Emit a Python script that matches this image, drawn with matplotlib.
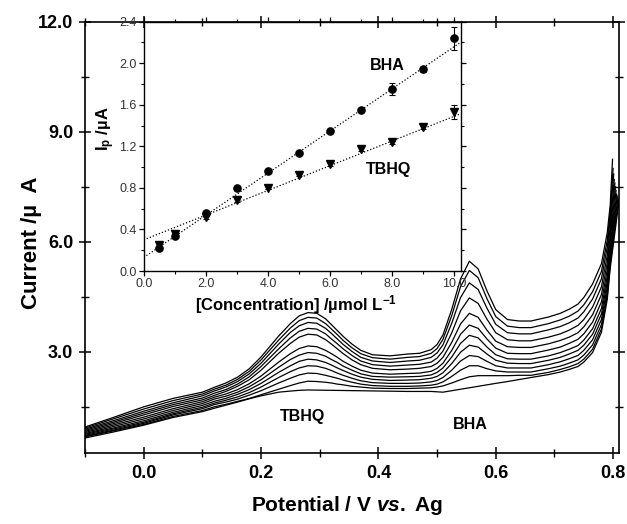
import numpy as np
import matplotlib
matplotlib.use('Agg')
import matplotlib.pyplot as plt
from matplotlib.ticker import MultipleLocator, FormatStrFormatter

plt.rcParams['font.family'] = ['Liberation Sans', 'DejaVu Sans']
plt.rcParams['mathtext.fontset'] = 'custom'
plt.rcParams['mathtext.rm'] = 'Liberation Sans:bold'
plt.rcParams['mathtext.it'] = 'Liberation Sans:bold:italic'
plt.rcParams['mathtext.bf'] = 'Liberation Sans:bold'

# ---------------- main DPV curves (potential / V, current / uA) ----------------
potential = [-0.10, -0.05, 0.00, 0.05, 0.10, 0.12, 0.14, 0.16, 0.18, 0.20, 0.23, 0.25,
             0.265, 0.28, 0.295, 0.31, 0.32, 0.33, 0.34, 0.355, 0.37, 0.39, 0.42, 0.45,
             0.47, 0.49, 0.50, 0.51, 0.525, 0.54, 0.555, 0.57, 0.585, 0.60, 0.62, 0.64,
             0.66, 0.69, 0.71, 0.725, 0.74, 0.75, 0.765, 0.78, 0.79, 0.795]

i_blank = [0.65, 0.82, 1.00, 1.21, 1.37, 1.46, 1.545, 1.63, 1.72, 1.80, 1.90, 1.93, 1.95, 1.96,
           1.956, 1.953, 1.951, 1.948, 1.946, 1.942, 1.939, 1.934, 1.927, 1.92, 1.92, 1.92, 1.91,
           1.90, 1.94, 1.98, 2.02, 2.06, 2.10, 2.14, 2.19, 2.245, 2.30, 2.38, 2.45, 2.52, 2.60,
           2.72, 2.98, 3.53, 4.43, 5.28]
i_c05 = [0.68, 0.85, 1.02, 1.24, 1.40, 1.50, 1.57, 1.65, 1.73, 1.83, 1.98, 2.08, 2.15, 2.20,
         2.19, 2.17, 2.15, 2.12, 2.10, 2.06, 2.04, 2.01, 2.00, 2.00, 2.01, 2.02, 2.04, 2.07,
         2.15, 2.24, 2.32, 2.35, 2.35, 2.35, 2.35, 2.36, 2.36, 2.44, 2.52, 2.59, 2.68, 2.80,
         3.07, 3.62, 4.52, 5.36]
i_c1 = [0.70, 0.87, 1.05, 1.28, 1.45, 1.56, 1.63, 1.71, 1.82, 1.94, 2.15, 2.28, 2.37, 2.42,
        2.41, 2.36, 2.32, 2.28, 2.23, 2.17, 2.12, 2.08, 2.06, 2.06, 2.07, 2.09, 2.12, 2.18,
        2.33, 2.50, 2.62, 2.62, 2.54, 2.48, 2.45, 2.45, 2.45, 2.54, 2.61, 2.69, 2.78, 2.91,
        3.19, 3.74, 4.63, 5.46]
i_c2 = [0.72, 0.90, 1.08, 1.31, 1.49, 1.60, 1.68, 1.77, 1.89, 2.04, 2.30, 2.46, 2.56, 2.62,
        2.61, 2.55, 2.49, 2.42, 2.36, 2.28, 2.21, 2.16, 2.14, 2.14, 2.15, 2.18, 2.22, 2.30,
        2.50, 2.75, 2.90, 2.87, 2.74, 2.62, 2.56, 2.56, 2.56, 2.65, 2.73, 2.81, 2.90, 3.04,
        3.33, 3.88, 4.77, 5.59]
i_c3 = [0.75, 0.93, 1.12, 1.35, 1.54, 1.65, 1.73, 1.84, 1.97, 2.14, 2.44, 2.62, 2.74, 2.80,
        2.78, 2.71, 2.64, 2.56, 2.49, 2.39, 2.31, 2.25, 2.22, 2.23, 2.24, 2.28, 2.33, 2.43,
        2.68, 2.99, 3.18, 3.13, 2.94, 2.77, 2.69, 2.68, 2.68, 2.77, 2.85, 2.94, 3.04, 3.18,
        3.48, 4.03, 4.91, 5.73]
i_c4 = [0.77, 0.97, 1.17, 1.40, 1.59, 1.71, 1.79, 1.90, 2.05, 2.24, 2.58, 2.79, 2.91, 2.98,
        2.96, 2.88, 2.79, 2.71, 2.61, 2.50, 2.40, 2.33, 2.31, 2.32, 2.33, 2.37, 2.44, 2.56,
        2.86, 3.23, 3.45, 3.38, 3.13, 2.92, 2.81, 2.80, 2.80, 2.89, 2.98, 3.07, 3.17, 3.32,
        3.63, 4.18, 5.06, 5.86]
i_c5 = [0.80, 1.01, 1.22, 1.45, 1.64, 1.76, 1.85, 1.97, 2.13, 2.34, 2.72, 2.95, 3.09, 3.16,
        3.14, 3.04, 2.95, 2.85, 2.74, 2.61, 2.50, 2.42, 2.39, 2.41, 2.42, 2.47, 2.55, 2.69,
        3.04, 3.48, 3.73, 3.64, 3.35, 3.10, 2.96, 2.95, 2.95, 3.05, 3.13, 3.23, 3.34, 3.49,
        3.81, 4.36, 5.23, 6.03]
i_c6 = [0.83, 1.05, 1.28, 1.51, 1.69, 1.81, 1.92, 2.06, 2.24, 2.50, 2.96, 3.23, 3.40, 3.48,
        3.46, 3.33, 3.21, 3.08, 2.95, 2.78, 2.65, 2.55, 2.51, 2.53, 2.55, 2.60, 2.69, 2.85,
        3.26, 3.76, 4.05, 3.94, 3.59, 3.29, 3.14, 3.12, 3.12, 3.22, 3.31, 3.40, 3.52, 3.68,
        4.01, 4.56, 5.43, 6.22]
i_c7 = [0.86, 1.09, 1.33, 1.56, 1.74, 1.87, 1.97, 2.12, 2.32, 2.60, 3.08, 3.38, 3.56, 3.64,
        3.62, 3.49, 3.35, 3.22, 3.08, 2.90, 2.75, 2.65, 2.61, 2.64, 2.66, 2.72, 2.83, 3.02,
        3.52, 4.12, 4.47, 4.32, 3.89, 3.52, 3.33, 3.30, 3.30, 3.40, 3.49, 3.59, 3.72, 3.88,
        4.22, 4.77, 5.63, 6.41]
i_c8 = [0.89, 1.13, 1.38, 1.61, 1.80, 1.93, 2.04, 2.19, 2.40, 2.69, 3.21, 3.53, 3.71, 3.80,
        3.78, 3.64, 3.50, 3.35, 3.20, 3.01, 2.85, 2.75, 2.71, 2.75, 2.77, 2.85, 2.97, 3.19,
        3.78, 4.48, 4.88, 4.70, 4.19, 3.75, 3.52, 3.49, 3.49, 3.60, 3.69, 3.79, 3.92, 4.09,
        4.44, 4.99, 5.85, 6.62]
i_c9 = [0.92, 1.18, 1.44, 1.67, 1.85, 1.98, 2.09, 2.25, 2.47, 2.78, 3.32, 3.65, 3.85, 3.94,
        3.92, 3.77, 3.62, 3.47, 3.31, 3.11, 2.95, 2.84, 2.80, 2.85, 2.87, 2.96, 3.09, 3.34,
        3.99, 4.78, 5.22, 5.02, 4.45, 3.96, 3.70, 3.66, 3.66, 3.77, 3.87, 3.97, 4.11, 4.28,
        4.64, 5.19, 6.04, 6.80]
i_c10 = [0.95, 1.22, 1.50, 1.73, 1.90, 2.03, 2.15, 2.31, 2.54, 2.86, 3.43, 3.77, 3.98, 4.07,
         4.05, 3.90, 3.74, 3.58, 3.42, 3.21, 3.04, 2.92, 2.89, 2.94, 2.96, 3.06, 3.20, 3.46,
         4.16, 4.99, 5.47, 5.26, 4.66, 4.15, 3.88, 3.84, 3.84, 3.95, 4.05, 4.16, 4.30, 4.48,
         4.85, 5.40, 6.25, 7.00]

# final (steep) point of each curve at the anodic limit
end_potential = [0.810, 0.809, 0.808, 0.807, 0.806, 0.805, 0.804, 0.803, 0.802, 0.801, 0.800, 0.799]
end_current = [7.10, 7.15, 7.20, 7.25, 7.30, 7.40, 7.50, 7.60, 7.70, 7.85, 8.00, 8.25]

curves = [i_blank, i_c05, i_c1, i_c2, i_c3, i_c4, i_c5, i_c6, i_c7, i_c8, i_c9, i_c10]

# ---------------- inset calibration data ----------------
conc = [0.5, 1, 2, 3, 4, 5, 6, 7, 8, 9, 10]
ip_bha = [0.22, 0.34, 0.56, 0.80, 0.96, 1.135, 1.35, 1.55, 1.75, 1.94, 2.24]
err_bha = [0.02, 0.02, 0.02, 0.02, 0.015, 0.015, 0.015, 0.015, 0.06, 0.025, 0.11]
ip_tbhq = [0.25, 0.36, 0.52, 0.68, 0.80, 0.925, 1.03, 1.175, 1.24, 1.385, 1.53]
err_tbhq = [0.02, 0.02, 0.02, 0.02, 0.015, 0.015, 0.015, 0.015, 0.02, 0.02, 0.065]
fit_bha = [0.203, 0.13]     # slope, intercept
fit_tbhq = [0.119, 0.30]

W, H = 627, 524
fig = plt.figure(figsize=(W / 100, H / 100), dpi=100)
ax = fig.add_axes([85 / W, 1 - 452.7 / H, (619 - 85) / W, (452.7 - 21.7) / H])

for cur, e_end, i_end in zip(curves, end_potential, end_current):
    ax.plot(list(potential) + [e_end], list(cur) + [i_end], color='black', lw=0.9)

ax.set_xlim(-0.1, 0.81)
ax.set_ylim(0.25, 12.0)
ax.xaxis.set_major_locator(MultipleLocator(0.2))
ax.xaxis.set_minor_locator(MultipleLocator(0.1))
ax.yaxis.set_major_locator(MultipleLocator(3.0))
ax.yaxis.set_minor_locator(MultipleLocator(1.5))
ax.xaxis.set_major_formatter(FormatStrFormatter('%.1f'))
ax.yaxis.set_major_formatter(FormatStrFormatter('%.1f'))
ax.tick_params(axis='both', which='major', direction='inout', length=9, width=1.1,
               labelsize=13, pad=4)
ax.tick_params(axis='both', which='minor', direction='inout', length=6, width=1.0)
ax.tick_params(axis='both', which='both', top=True, right=True)
for lab in ax.get_xticklabels() + ax.get_yticklabels():
    lab.set_fontweight('bold')
for sp in ax.spines.values():
    sp.set_linewidth(1.2)

ax.set_xlabel('Potential / V $\\mathit{vs.}$ Ag', fontsize=15, fontweight='bold')
ax.xaxis.set_label_coords(0.49, -0.095)
ax.set_ylabel('Current /µ  A', fontsize=16, fontweight='bold')
ax.yaxis.set_label_coords(-0.100, 0.487)
ax.yaxis.label.set_va('center')

ax.text(0.271, 1.25, 'TBHQ', fontsize=11.5, fontweight='bold', ha='center', va='center')
ax.text(0.556, 1.03, 'BHA', fontsize=11.5, fontweight='bold', ha='center', va='center')

# ---------------- inset ----------------
axi = fig.add_axes([143.7 / W, 1 - 271 / H, (460.5 - 143.7) / W, (271 - 21.7) / H])
axi.patch.set_alpha(0.0)
xfit = np.array([0.0, 10.2])
axi.plot(xfit, np.polyval(fit_bha, xfit), color='black', lw=0.9, ls=(0, (1, 1.6)))
axi.plot(xfit, np.polyval(fit_tbhq, xfit), color='black', lw=0.9, ls=(0, (1, 1.6)))
axi.errorbar(conc, ip_bha, yerr=err_bha, fmt='o', color='black', ms=5.2,
             capsize=2.5, elinewidth=0.8, capthick=0.8)
axi.errorbar(conc, ip_tbhq, yerr=err_tbhq, fmt='v', color='black', ms=6,
             capsize=2.5, elinewidth=0.8, capthick=0.8)
axi.set_xlim(0, 10.2)
axi.set_ylim(0, 2.4)
axi.xaxis.set_major_locator(MultipleLocator(2.0))
axi.xaxis.set_minor_locator(MultipleLocator(1.0))
axi.yaxis.set_major_locator(MultipleLocator(0.4))
axi.yaxis.set_minor_locator(MultipleLocator(0.2))
axi.xaxis.set_major_formatter(FormatStrFormatter('%.1f'))
axi.yaxis.set_major_formatter(FormatStrFormatter('%.1f'))
axi.tick_params(axis='both', which='major', direction='out', length=3.5, width=0.9,
                labelsize=9, labelcolor='#333333', pad=1.5)
axi.tick_params(axis='both', which='minor', direction='out', length=2.2, width=0.8)
axi.tick_params(axis='x', which='both', top=True)
axi.tick_params(axis='y', which='both', right=True)
for sp in axi.spines.values():
    sp.set_linewidth(1.0)

axi.text(0.48, -0.135, '[Concentration] /µmol L$^{\\mathrm{-1}}$', transform=axi.transAxes,
         fontsize=12, fontweight='bold', ha='center', va='center')
axi.text(-0.12, 0.57, 'I$_{\\mathrm{p}}$ /µA', transform=axi.transAxes, rotation=90,
         fontsize=12, fontweight='bold', ha='center', va='center')
axi.text(7.84, 1.98, 'BHA', fontsize=11.5, fontweight='bold', ha='center', va='center')
axi.text(7.87, 0.976, 'TBHQ', fontsize=11.5, fontweight='bold', ha='center', va='center')

fig.savefig('out.png', dpi=100)
